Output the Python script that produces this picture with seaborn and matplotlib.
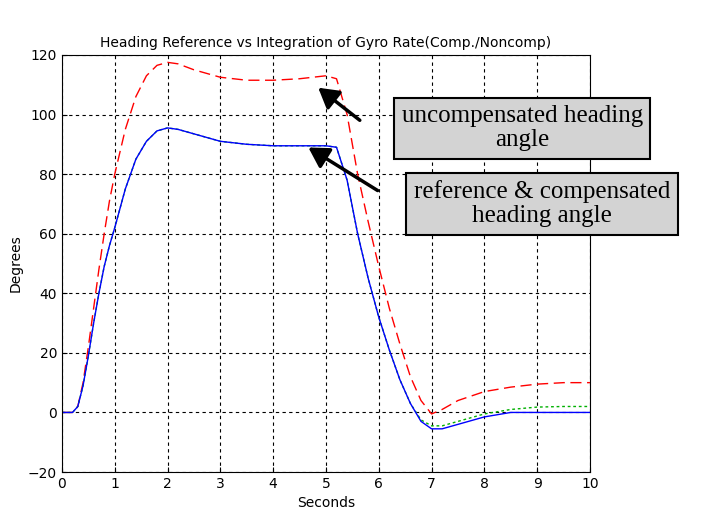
import matplotlib
matplotlib.use("Agg")
import matplotlib.pyplot as plt
import seaborn as sns
import pandas as pd

t = [0, 0.2, 0.3, 0.4, 0.5, 0.6, 0.7, 0.8, 0.9, 1.0, 1.2, 1.4, 1.6, 1.8, 2.0, 2.2, 2.5, 3.0, 3.5, 4.0, 4.5, 5.0, 5.2, 5.4, 5.6, 5.8, 6.0, 6.2, 6.4, 6.6, 6.8, 7.0, 7.2, 7.5, 8.0, 8.5, 9.0, 9.5, 10.0]
uncomp = [0, 0, 2, 10, 22, 35, 48, 60, 71, 80, 95, 106, 113, 116.5, 117.5, 117, 115, 112.5, 111.5, 111.5, 112, 113, 112, 100, 80, 64, 49, 35, 23, 12, 4, -0.5, 1, 4, 7, 8.5, 9.5, 10, 10]
ref = [0, 0, 2, 9, 19, 30, 40, 49, 56, 62, 75, 85, 91, 94.5, 95.5, 95, 93.5, 91, 90, 89.5, 89.5, 89.5, 89, 78, 60, 45, 32, 21, 11, 3, -3, -5.5, -5.5, -4, -1.5, 0, 0, 0, 0]
comp = [0, 0, 2, 9, 19, 30, 40, 49, 56, 62, 75, 85, 91, 94.5, 95.5, 95, 93.5, 91, 90, 89.5, 89.5, 89.5, 89, 78, 60, 45, 32, 21, 11, 3, -2.5, -4.5, -4.5, -3, -0.5, 1, 1.8, 2, 2]

df = pd.DataFrame({"t": t, "uncomp": uncomp, "ref": ref, "comp": comp})

fig = plt.figure(figsize=(7.04, 5.28), dpi=100)
ax = fig.add_axes([0.088, 0.106, 0.75, 0.79])
sns.lineplot(data=df, x="t", y="uncomp", ax=ax, color="red", linestyle=(0, (8, 4)), lw=1)
sns.lineplot(data=df, x="t", y="comp", ax=ax, color="#00b000", linestyle=(0, (2, 2)), lw=1)
sns.lineplot(data=df, x="t", y="ref", ax=ax, color="blue", lw=1)
ax.set_xlim(0, 10)
ax.set_ylim(-20, 120)
ax.set_xticks(range(0, 11))
ax.set_yticks(range(-20, 121, 20))
ax.grid(True, color="black", linestyle=(0, (3, 3)), lw=0.8)
ax.tick_params(direction="in", labelsize=10)
ax.set_xlabel("Seconds", fontsize=10)
ax.set_ylabel("Degrees", fontsize=10)
ax.set_title("Heading Reference vs Integration of Gyro Rate(Comp./Noncomp)", fontsize=10)

fig.text(0.742, 0.757, "uncompensated heading\nangle", ha="center", va="center", fontsize=18,
         family="Liberation Serif", linespacing=1.1,
         bbox=dict(boxstyle="square,pad=0.3", fc="#d3d3d3", ec="black", lw=1.5))
fig.text(0.770, 0.614, "reference & compensated\nheading angle", ha="center", va="center", fontsize=18,
         family="Liberation Serif", linespacing=1.1,
         bbox=dict(boxstyle="square,pad=0.3", fc="#d3d3d3", ec="black", lw=1.5))
fig.patches.append(matplotlib.patches.FancyArrowPatch((362/704, 1-122/528), (316/704, 1-86/528),
    transform=fig.transFigure, arrowstyle="-|>,head_length=0.6,head_width=0.35", mutation_scale=20, lw=2.5, color="black"))
fig.patches.append(matplotlib.patches.FancyArrowPatch((380/704, 1-192/528), (306/704, 1-146/528),
    transform=fig.transFigure, arrowstyle="-|>,head_length=0.6,head_width=0.35", mutation_scale=20, lw=2.5, color="black"))
fig.savefig("out.png", dpi=100)
